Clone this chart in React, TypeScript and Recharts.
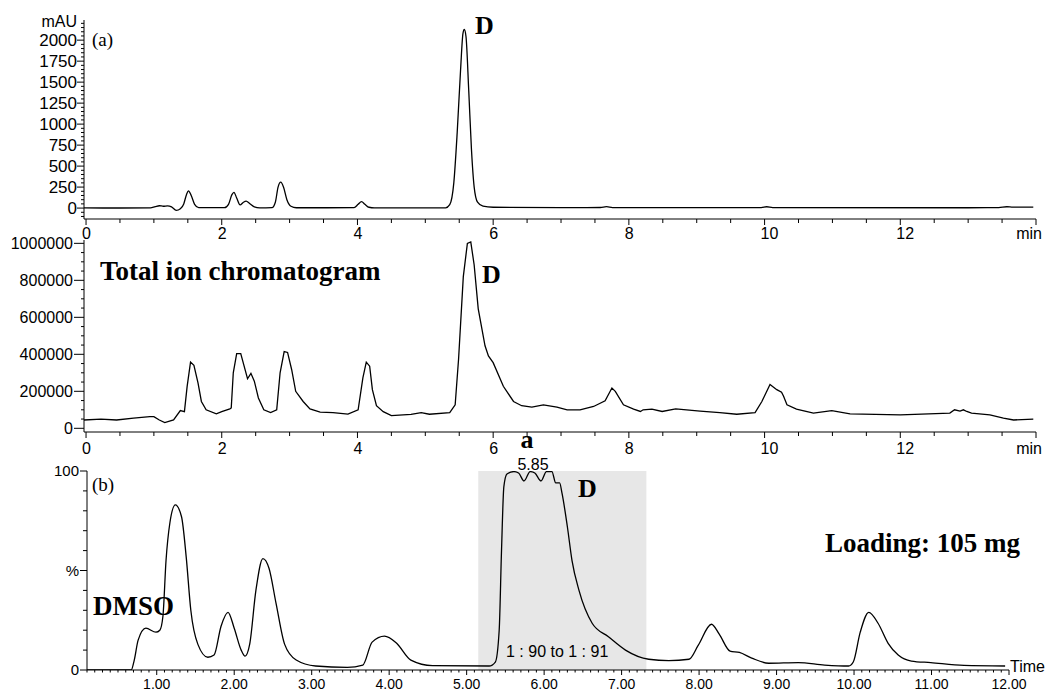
import React from 'react';
import { LineChart, Line, XAxis, YAxis, ReferenceArea } from 'recharts';

const SANS = '"Liberation Sans", Arial, sans-serif';
const SERIF = '"Liberation Serif", "Times New Roman", serif';

// (a) UV trace: time (min), absorbance (mAU)
const uvTrace: [number, number][] = [
  [-0.03, 2], [0.5, 1], [0.95, 3], [1.02, 18], [1.08, 28], [1.14, 22], [1.2, 26], [1.26, 14],
  [1.33, -28], [1.39, -8], [1.44, 50], [1.48, 160], [1.51, 206], [1.55, 150], [1.6, 45], [1.66, 6],
  [2.04, 5], [2.1, 45], [2.15, 160], [2.18, 188], [2.22, 120], [2.27, 38], [2.32, 70], [2.36, 82],
  [2.41, 55], [2.48, 15], [2.56, 3], [2.74, 5], [2.79, 70], [2.83, 250], [2.87, 309], [2.91, 250],
  [2.96, 100], [3.02, 22], [3.1, 4], [3.95, 5], [4.01, 45], [4.06, 76], [4.11, 45], [4.17, 10],
  [4.25, 3], [5.3, 3], [5.36, 40], [5.42, 300], [5.47, 900], [5.52, 1650], [5.555, 2080], [5.575, 2127],
  [5.6, 2040], [5.64, 1400], [5.68, 700], [5.72, 250], [5.77, 70], [5.85, 22], [6.0, 10], [7.0, 5],
  [7.58, 7], [7.67, 17], [7.76, 6], [9.95, 5], [10.03, 16], [10.12, 5], [13.0, 4], [13.45, 6],
  [13.57, 16], [13.66, 12], [13.96, 12],
];

// total ion chromatogram: time (min), counts
const ticTrace: [number, number][] = [
  [-0.03, 45000], [0.22, 50000], [0.45, 45000], [0.7, 55000], [0.94, 63000], [1.0, 63000], [1.08, 45000],
  [1.16, 31000], [1.29, 45000], [1.39, 96000], [1.45, 90000], [1.49, 227000], [1.54, 358000], [1.59, 340000],
  [1.65, 246000], [1.7, 145000], [1.77, 100000], [1.92, 78000], [2.0, 90000], [2.12, 105000], [2.14, 110000],
  [2.17, 300000], [2.22, 404000], [2.28, 404000], [2.38, 268000], [2.43, 297000], [2.48, 255000], [2.54, 164000],
  [2.62, 100000], [2.72, 85000], [2.81, 100000], [2.86, 300000], [2.92, 415000], [2.97, 410000], [3.03, 318000],
  [3.09, 200000], [3.2, 145000], [3.3, 105000], [3.45, 87000], [3.64, 85000], [3.86, 77000], [4.01, 100000],
  [4.08, 273000], [4.13, 358000], [4.18, 336000], [4.22, 209000], [4.28, 122000], [4.38, 90000], [4.5, 69000],
  [4.79, 75000], [4.94, 85000], [5.06, 76000], [5.36, 85000], [5.44, 127000], [5.49, 373000], [5.56, 820000],
  [5.62, 1000000], [5.67, 1008000], [5.72, 883000], [5.78, 646000], [5.88, 446000], [5.93, 391000], [6.0, 355000],
  [6.15, 227000], [6.3, 145000], [6.42, 122000], [6.57, 115000], [6.74, 127000], [6.94, 115000], [7.09, 100000],
  [7.28, 100000], [7.48, 118000], [7.65, 149000], [7.75, 218000], [7.8, 200000], [7.92, 127000], [8.07, 104000],
  [8.17, 91000], [8.21, 100000], [8.34, 104000], [8.49, 91000], [8.69, 105000], [9.05, 93000], [9.34, 85000],
  [9.59, 76000], [9.86, 85000], [9.96, 145000], [10.08, 237000], [10.18, 209000], [10.25, 195000], [10.28, 173000],
  [10.33, 127000], [10.47, 104000], [10.72, 82000], [10.99, 95000], [11.26, 78000], [12.0, 73000], [12.73, 82000],
  [12.8, 100000], [12.88, 93000], [12.93, 100000], [12.98, 91000], [13.05, 82000], [13.32, 73000], [13.52, 55000],
  [13.67, 45000], [13.96, 50000],
];

// (b) preparative run: time (min), relative intensity (%)
const prepTrace: [number, number][] = [
  [0.1, 0], [0.67, 0], [0.71, 5], [0.76, 15], [0.86, 21], [0.99, 19], [1.04, 20], [1.08, 27], [1.12, 55],
  [1.17, 74], [1.24, 83], [1.32, 77], [1.38, 57], [1.44, 30], [1.53, 13], [1.66, 6.4], [1.74, 7.5], [1.83, 22],
  [1.92, 29], [2.0, 21], [2.09, 10], [2.14, 7], [2.2, 13], [2.28, 40], [2.37, 56], [2.45, 51], [2.54, 33.5],
  [2.65, 13], [2.8, 5], [3.05, 2], [3.46, 1.3], [3.66, 2.5], [3.78, 14], [3.94, 17], [4.09, 13.7], [4.28, 5],
  [4.56, 2.2], [5.29, 2], [5.37, 4], [5.42, 20], [5.45, 60], [5.48, 92], [5.52, 98.5], [5.61, 99.7], [5.67, 99],
  [5.74, 95], [5.82, 99.7], [5.88, 99], [5.96, 95], [6.03, 99.7], [6.1, 99.7], [6.15, 94], [6.2, 94], [6.23, 89],
  [6.3, 72], [6.36, 55], [6.45, 40], [6.62, 23.5], [6.83, 16.7], [7.05, 10], [7.35, 5.4], [7.61, 4.7], [7.87, 5.4],
  [7.99, 12.5], [8.16, 23], [8.26, 18], [8.4, 9.5], [8.52, 8.8], [8.68, 6], [8.9, 3.4], [9.28, 3.7], [9.62, 2.5],
  [9.93, 2], [9.99, 4], [10.08, 19], [10.19, 29], [10.31, 23.5], [10.44, 13.4], [10.57, 7.5], [10.74, 4.5],
  [10.99, 3.7], [11.42, 2.3], [11.95, 2],
];

// collected fraction window (min)
const fraction = [5.15, 7.32];

const minLabels = ['0', '2', '4', '6', '8', '10', '12', 'min'];
const uvLabels = ['0', '250', '500', '750', '1000', '1250', '1500', '1750', '2000'];
const ticLabels = ['0', '200000', '400000', '600000', '800000', '1000000'];
const prepTimeLabels = ['1.00', '2.00', '3.00', '4.00', '5.00', '6.00', '7.00', '8.00', '9.00', '10.00', '11.00', '12.00'];
const pctLabels = ['0', '%', '100'];

const steps = (from: number, to: number, step: number) => {
  const out: number[] = [];
  for (let v = from; v <= to + step / 2; v += step) out.push(Math.round(v * 1000) / 1000);
  return out;
};

const toRows = (trace: [number, number][]) => trace.map(([t, v]) => ({ t, v }));

const BottomTick = (props: any) => {
  const { x, y, payload, labelOf, majorOf, majorLen, minorLen, fontSize, offset, anchor } = props;
  const v = payload.value;
  const txt = labelOf(v);
  let tx = x;
  let ta = 'middle';
  if (anchor === 'left' && txt) {
    if (txt === 'min') { tx = x + 6; ta = 'end'; } else { tx = x - 4; ta = 'start'; }
  }
  return (
    <g>
      <line x1={x} x2={x} y1={y} y2={y + (majorOf(v) ? majorLen : minorLen)} stroke="#000" strokeWidth={1} />
      {txt ? (
        <text x={tx} y={y + offset} textAnchor={ta} fontSize={fontSize} fontFamily={SANS} fill="#000">{txt}</text>
      ) : null}
    </g>
  );
};

const LeftTick = (props: any) => {
  const { x, y, payload, labelOf, majorOf, majorLen, minorLen, fontSize, offset } = props;
  const v = payload.value;
  const txt = labelOf(v);
  return (
    <g>
      <line x1={x - (majorOf(v) ? majorLen : minorLen)} x2={x} y1={y} y2={y} stroke="#000" strokeWidth={1} />
      {txt ? (
        <text x={x - offset} y={y} dy="0.36em" textAnchor="end" fontSize={fontSize} fontFamily={SANS} fill="#000">{txt}</text>
      ) : null}
    </g>
  );
};

const evenMin = (v: number) => Math.abs(v % 2) < 1e-6;
const minLabel = (v: number) => (evenMin(v) ? minLabels[Math.round(v / 2)] : '');

const minTickProps = { labelOf: minLabel, majorOf: evenMin, majorLen: 6, minorLen: 4, fontSize: 16, anchor: 'left' };

const App = () => {
  const uvRows = toRows(uvTrace);
  const ticRows = toRows(ticTrace);
  const prepRows = toRows(prepTrace);
  const minTicks = steps(0, 14, 0.5);
  const txt = (x: number, y: number, s: string, size: number, opts: any = {}) => (
    <text x={x} y={y} fontSize={size} fontFamily={opts.sans ? SANS : SERIF} fontWeight={opts.bold ? 'bold' : 'normal'}
      textAnchor={opts.anchor || 'start'} fill="#000">{s}</text>
  );

  return (
    <div style={{ position: 'absolute', left: 0, top: 0, width: 1047, height: 693, background: '#fff', overflow: 'hidden' }}>
      <div style={{ position: 'absolute', left: 0, top: 0 }}>
        <LineChart width={1047} height={252} data={uvRows} margin={{ top: 20, right: 11, bottom: 12, left: 0 }}>
          <XAxis dataKey="t" type="number" domain={[-0.03, 14]} allowDataOverflow ticks={minTicks} interval={0}
            height={21} tickSize={0} tickMargin={0} tickLine={false} axisLine={{ stroke: '#000' }}
            tick={(p: any) => <BottomTick {...p} {...minTickProps} offset={20} />} />
          <YAxis type="number" domain={[-130, 2240]} allowDataOverflow ticks={steps(-100, 2200, 50)} interval={0}
            width={84} tickSize={0} tickMargin={0} tickLine={false} axisLine={{ stroke: '#000' }}
            tick={(p: any) => (
              <LeftTick {...p} labelOf={(v: number) => (v >= 0 && v <= 2000 && v % 250 === 0 ? uvLabels[v / 250] : '')}
                majorOf={(v: number) => v % 250 === 0} majorLen={7} minorLen={3} fontSize={17} offset={7} />
            )} />
          <Line dataKey="v" type="monotone" stroke="#000" strokeWidth={1.3} dot={false} isAnimationActive={false} />
        </LineChart>
      </div>

      <div style={{ position: 'absolute', left: 0, top: 225 }}>
        <LineChart width={1047} height={241} data={ticRows} margin={{ top: 15, right: 11, bottom: 12, left: 0 }}>
          <XAxis dataKey="t" type="number" domain={[-0.03, 14]} allowDataOverflow ticks={minTicks} interval={0}
            height={22} tickSize={0} tickMargin={0} tickLine={false} axisLine={{ stroke: '#000' }}
            tick={(p: any) => <BottomTick {...p} {...minTickProps} offset={22} />} />
          <YAxis type="number" domain={[-20000, 1018000]} allowDataOverflow ticks={steps(0, 1000000, 50000)} interval={0}
            width={84} tickSize={0} tickMargin={0} tickLine={false} axisLine={{ stroke: '#000' }}
            tick={(p: any) => (
              <LeftTick {...p} labelOf={(v: number) => (v % 200000 === 0 ? ticLabels[v / 200000] : '')}
                majorOf={(v: number) => v % 200000 === 0} majorLen={10} minorLen={3} fontSize={16} offset={11} />
            )} />
          <Line dataKey="v" type="linear" stroke="#000" strokeWidth={1.3} dot={false} isAnimationActive={false} />
        </LineChart>
      </div>

      <div style={{ position: 'absolute', left: 0, top: 455 }}>
        <LineChart width={1047} height={238} data={prepRows} margin={{ top: 16, right: 38, bottom: 0, left: 0 }}>
          <ReferenceArea x1={fraction[0]} x2={fraction[1]} y1={0} y2={100} fill="#e7e7e7" fillOpacity={1} stroke="none" ifOverflow="hidden" />
          <XAxis dataKey="t" type="number" domain={[0.1, 12]} allowDataOverflow ticks={steps(0.1, 12, 0.1)} interval={0}
            height={23} tickSize={0} tickMargin={0} tickLine={false} axisLine={{ stroke: '#000' }}
            tick={(p: any) => (
              <BottomTick {...p}
                labelOf={(v: number) => (Math.abs(v - Math.round(v)) < 1e-6 && v >= 1 ? prepTimeLabels[Math.round(v) - 1] : '')}
                majorOf={(v: number) => Math.abs(v - Math.round(v)) < 1e-6} majorLen={5} minorLen={2.5} fontSize={14} offset={19} />
            )} />
          <YAxis type="number" domain={[0, 100]} allowDataOverflow ticks={steps(0, 100, 10)} interval={0}
            width={87} tickSize={0} tickMargin={0} tickLine={false} axisLine={{ stroke: '#000' }}
            tick={(p: any) => (
              <LeftTick {...p} labelOf={(v: number) => (v % 50 === 0 ? pctLabels[v / 50] : '')}
                majorOf={(v: number) => v % 50 === 0} majorLen={7} minorLen={4} fontSize={15} offset={8} />
            )} />
          <Line dataKey="v" type="monotone" stroke="#000" strokeWidth={1.3} dot={false} isAnimationActive={false} />
        </LineChart>
      </div>

      <svg width={1047} height={693} style={{ position: 'absolute', left: 0, top: 0, pointerEvents: 'none' }}>
        {txt(77, 27, 'mAU', 16, { sans: true, anchor: 'end' })}
        {txt(92, 46, '(a)', 19)}
        {txt(475, 34, 'D', 26, { bold: true })}
        {txt(100, 280, 'Total ion chromatogram', 27, { bold: true })}
        {txt(482, 283, 'D', 26, { bold: true })}
        {txt(527, 448, 'a', 26, { bold: true, anchor: 'middle' })}
        {txt(533, 470, '5.85', 16, { sans: true, anchor: 'middle' })}
        {txt(578, 497, 'D', 26, { bold: true })}
        {txt(506, 657, '1 : 90 to 1 : 91', 16, { sans: true })}
        {txt(825, 552, 'Loading: 105 mg', 27, { bold: true })}
        {txt(93, 615, 'DMSO', 27, { bold: true })}
        {txt(92, 491, '(b)', 19)}
        {txt(1010, 672, 'Time', 16, { sans: true })}
      </svg>
    </div>
  );
};

export default App;
